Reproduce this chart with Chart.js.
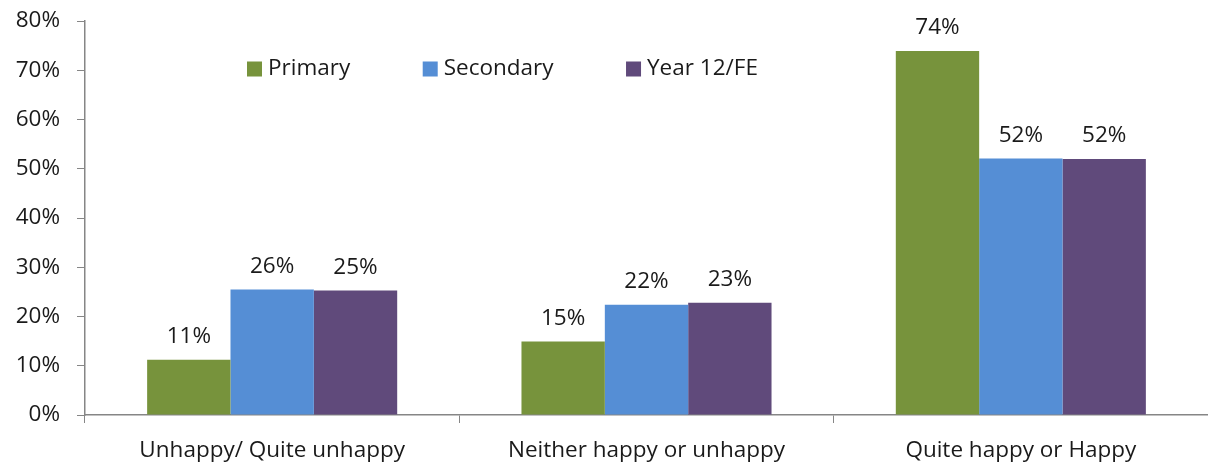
<!DOCTYPE html>
<html>
<head>
<meta charset="utf-8">
<script src="https://cdn.jsdelivr.net/npm/chart.js@4/dist/chart.umd.min.js"></script>
<style>
  html, body { margin: 0; padding: 0; background: #fff; }
  #wrap { width: 1208px; height: 464px; position: relative; }
</style>
</head>
<body>
<div id="wrap"><canvas id="chart"></canvas></div>
<script>
const CATEGORIES = ["Unhappy/ Quite unhappy", "Neither happy or unhappy", "Quite happy or Happy"];
const SERIES_NAMES = ["Primary", "Secondary", "Year 12/FE"];
const PRIMARY = [11.2, 14.9, 73.9];
const SECONDARY = [25.5, 22.4, 52.1];
const YEAR12_FE = [25.3, 22.8, 52.0];
const Y_TICKS = [0, 10, 20, 30, 40, 50, 60, 70, 80];
const COLORS = ["#77933C", "#558ED5", "#604A7B"];

const FONT = "'Open Sans', Lato, sans-serif";
const FONT_SIZE = 22.5;
const TEXT = "#1a1a1a";
const AXIS = "#868686";

/* ---------- plugins ---------- */

// value labels above each bar
const valueLabels = {
  id: "valueLabels",
  afterDatasetsDraw(chart) {
    const ctx = chart.ctx;
    ctx.save();
    ctx.font = `${FONT_SIZE}px ${FONT}`;
    ctx.fillStyle = TEXT;
    ctx.textAlign = "center";
    ctx.textBaseline = "middle";
    chart.data.datasets.forEach((ds, i) => {
      chart.getDatasetMeta(i).data.forEach((bar, j) => {
        ctx.fillText(`${Math.round(ds.data[j])}%`, bar.x, bar.y - 23);
      });
    });
    ctx.restore();
  },
};

// legend drawn inside the plot area, in one row
const insideLegend = {
  id: "insideLegend",
  afterDraw(chart) {
    const ctx = chart.ctx;
    const area = chart.chartArea;
    ctx.save();
    ctx.font = `${FONT_SIZE}px ${FONT}`;
    ctx.textBaseline = "middle";
    ctx.textAlign = "left";
    let x = area.left + 162;
    const y = area.top + 48;
    chart.data.datasets.forEach((ds) => {
      ctx.fillStyle = ds.backgroundColor;
      ctx.fillRect(x, y - 7.5, 15, 15);
      ctx.fillStyle = TEXT;
      ctx.fillText(ds.label, x + 21, y);
      x += 21 + ctx.measureText(ds.label).width + 72.5;
    });
    ctx.restore();
  },
};

/* ---------- chart ---------- */

const seriesData = [PRIMARY, SECONDARY, YEAR12_FE];

new Chart(document.getElementById("chart"), {
  type: "bar",
  data: {
    labels: CATEGORIES,
    datasets: SERIES_NAMES.map((name, i) => ({
      label: name,
      data: seriesData[i],
      backgroundColor: COLORS[i],
      barPercentage: 1,
      categoryPercentage: 0.668,
    })),
  },
  options: {
    responsive: true,
    maintainAspectRatio: false,
    animation: false,
    layout: { padding: { top: 21, right: 0, left: 0, bottom: 0 } },
    plugins: {
      legend: { display: false },
      tooltip: { enabled: false },
    },
    scales: {
      x: {
        offset: true,
        grid: { offset: true, drawOnChartArea: false, color: AXIS, tickLength: 8, tickColor: AXIS },
        border: { color: AXIS, width: 1.5 },
        ticks: { color: TEXT, font: { family: FONT, size: FONT_SIZE }, padding: 14, maxRotation: 0 },
        afterFit(scale) {
          scale.height = 49;
          scale.paddingLeft = 0;
          scale.paddingRight = 0;
        },
      },
      y: {
        min: 0,
        max: 80,
        afterBuildTicks(scale) { scale.ticks = Y_TICKS.map((v) => ({ value: v })); },
        grid: { drawOnChartArea: false, color: AXIS, tickLength: 8, tickColor: AXIS },
        border: { color: AXIS, width: 1.5 },
        ticks: {
          color: TEXT,
          font: { family: FONT, size: FONT_SIZE },
          padding: 17,
          callback: (v) => `${v}%`,
        },
        afterFit(scale) {
          scale.width = 85;
          scale.paddingTop = 0;
          scale.paddingBottom = 0;
        },
      },
    },
  },
  plugins: [valueLabels, insideLegend],
});
</script>
</body>
</html>
